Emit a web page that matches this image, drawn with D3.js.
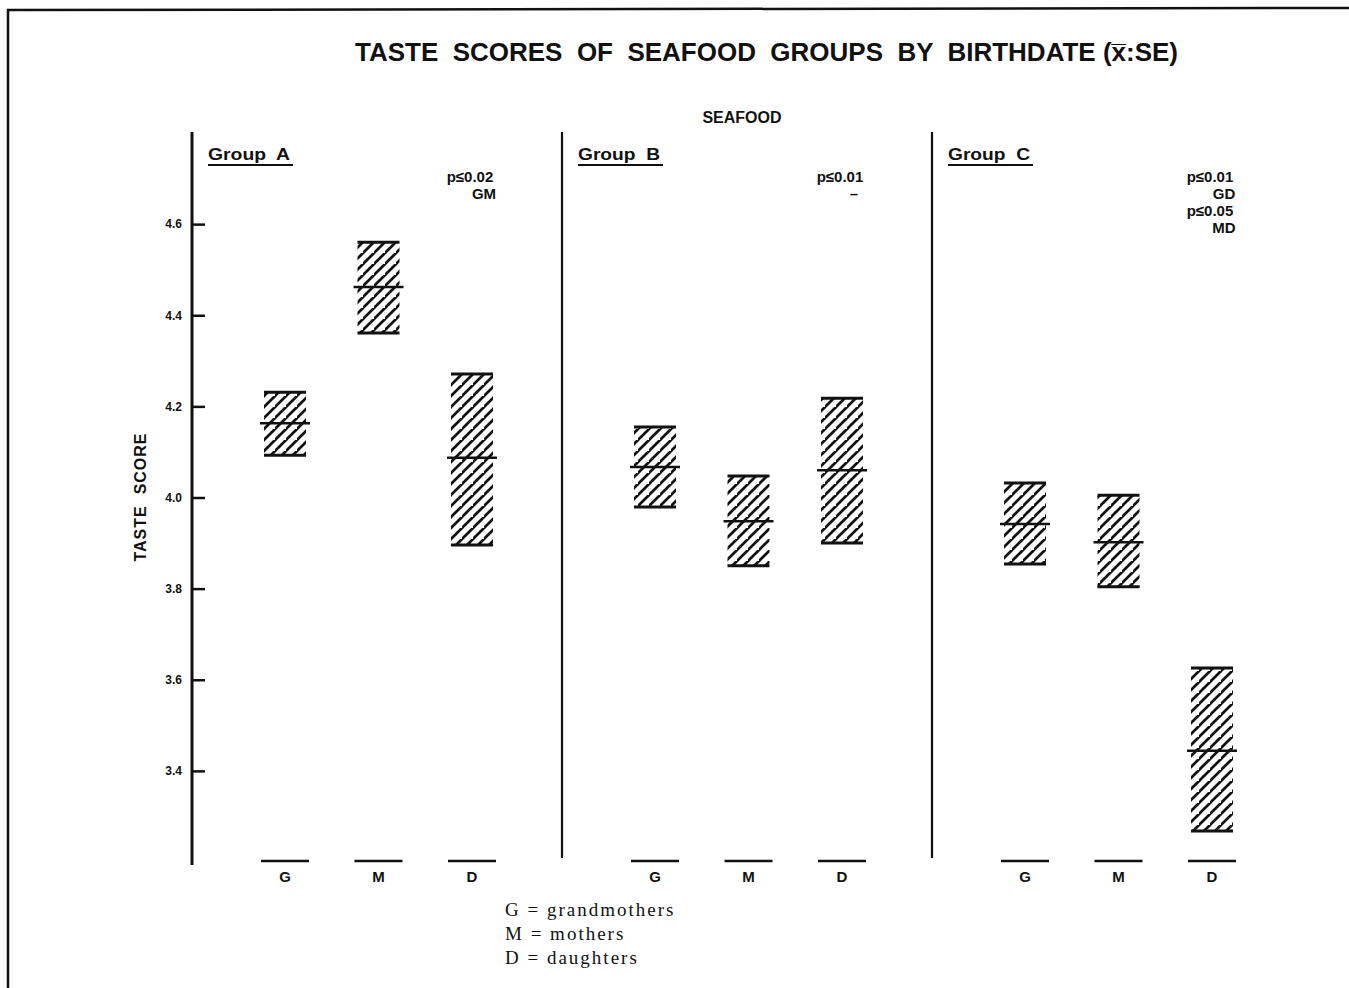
<!DOCTYPE html>
<html><head><meta charset="utf-8">
<script src="https://cdn.jsdelivr.net/npm/d3@7"></script>
<style>
html,body{margin:0;padding:0;background:#fff;}
svg{display:block;}
text{font-family:"Liberation Sans","DejaVu Sans",sans-serif;fill:#111;white-space:pre;}
</style></head>
<body>
<svg id="c" width="1349" height="988"></svg>
<script>
const groups = ["Group  A", "Group  B", "Group  C"];
const members = ["G", "M", "D"];
// mean, mean+SE, mean-SE per group and member
const meanA = [4.163, 4.462, 4.087];
const upperA = [4.231, 4.560, 4.271];
const lowerA = [4.093, 4.361, 3.896];
const meanB = [4.067, 3.948, 4.060];
const upperB = [4.155, 4.047, 4.218];
const lowerB = [3.979, 3.850, 3.900];
const meanC = [3.942, 3.902, 3.444];
const upperC = [4.032, 4.005, 3.626];
const lowerC = [3.854, 3.804, 3.268];
const yTicks = [3.4, 3.6, 3.8, 4.0, 4.2, 4.4, 4.6];
const yDomain = [3.2, 4.8];
const annotations = [
  ["p\u22640.02", "GM"],
  ["p\u22640.01", "\u2013"],
  ["p\u22640.01", "GD", "p\u22640.05", "MD"]
];
const legendLines = ["G = grandmothers", "M = mothers", "D = daughters"];
const title = "TASTE  SCORES  OF  SEAFOOD  GROUPS  BY  BIRTHDATE (x\u0305:SE)";

const means = [meanA, meanB, meanC];
const uppers = [upperA, upperB, upperC];
const lowers = [lowerA, lowerB, lowerC];

const svg = d3.select("#c");
const y = d3.scaleLinear().domain(yDomain).range([862, 133]);
const panel = d3.scaleBand().domain(groups).range([192, 1302]).paddingInner(0).paddingOuter(0);
const xin = d3.scalePoint().domain(members).range([93, 280]);

// frame
svg.append("path").attr("d", "M8,988 L8,10 L1349,8").attr("fill","none").attr("stroke","#111").attr("stroke-width",2.5);

// hatch pattern
const defs = svg.append("defs");
const P = 11;
const pat = defs.append("pattern").attr("id","hatch").attr("patternUnits","userSpaceOnUse")
  .attr("width",P).attr("height",P);
pat.append("path").attr("d",`M-2,${P+2} L${P+2},-2 M${-P-2},${P+2} L2,-2 M${P-2},${2*P+2} L${2*P+2},${P-2}`)
  .attr("stroke","#111").attr("stroke-width",2.7);

// title
svg.append("text").attr("x",355).attr("y",61).attr("font-size",25).attr("font-weight","bold")
  .attr("textLength",823).attr("lengthAdjust","spacingAndGlyphs").text(title);
svg.append("text").attr("x",742).attr("y",123).attr("text-anchor","middle").attr("font-size",16)
  .attr("font-weight","bold").text("SEAFOOD");

// y axis
const yAxis = d3.axisRight(y).tickValues(yTicks).tickSize(13).tickFormat(d3.format(".1f"));
const ga = svg.append("g").attr("transform","translate(192,0)").call(yAxis);
ga.select(".domain").remove();
ga.selectAll(".tick line").attr("stroke","#111").attr("stroke-width",2.5);
ga.selectAll(".tick text").attr("x",-10).attr("text-anchor","end").attr("font-size",12)
  .attr("font-weight","bold").attr("fill","#111");
svg.append("line").attr("x1",192).attr("x2",192).attr("y1",y(4.8)-1).attr("y2",y(3.2)+3)
  .attr("stroke","#111").attr("stroke-width",3);
svg.append("text").attr("transform","translate(146,497) rotate(-90)").attr("text-anchor","middle")
  .attr("font-size",16).attr("font-weight","bold").attr("letter-spacing",1).text("TASTE  SCORE");

groups.forEach((g, gi) => {
  const x0 = panel(g);
  if (gi > 0) {
    svg.append("line").attr("x1",x0).attr("x2",x0).attr("y1",y(4.8)-1).attr("y2",y(3.2)-4)
      .attr("stroke","#111").attr("stroke-width",2.2);
  }
  const lx = x0 + 16;
  svg.append("text").attr("x",lx).attr("y",160).attr("font-size",17).attr("font-weight","bold")
    .attr("textLength",82).attr("lengthAdjust","spacingAndGlyphs").text(g);
  svg.append("line").attr("x1",lx).attr("x2",lx+85).attr("y1",165).attr("y2",165).attr("stroke","#111").attr("stroke-width",2.2);

  // annotation
  const ann = annotations[gi];
  const ax = x0 + xin("D") - 2;
  ann.forEach((s, si) => {
    const isP = s.startsWith("p");
    svg.append("text").attr("x", isP ? ax : ax + 14).attr("y", 182 + si*17)
      .attr("text-anchor","middle").attr("font-size",15).attr("font-weight","bold").text(s);
  });

  members.forEach((m, mi) => {
    const cx = x0 + xin(m);
    const bw = 42;
    const yt = y(uppers[gi][mi]), yb = y(lowers[gi][mi]), ym = y(means[gi][mi]);
    svg.append("rect").attr("x",cx-bw/2).attr("y",yt).attr("width",bw).attr("height",yb-yt)
      .attr("fill","url(#hatch)");
    [yt, yb].forEach(yy => svg.append("line").attr("x1",cx-bw/2).attr("x2",cx+bw/2)
      .attr("y1",yy).attr("y2",yy).attr("stroke","#111").attr("stroke-width",3));
    svg.append("line").attr("x1",cx-bw/2-4).attr("x2",cx+bw/2+4).attr("y1",ym).attr("y2",ym)
      .attr("stroke","#111").attr("stroke-width",2.5);
    svg.append("line").attr("x1",cx-24).attr("x2",cx+24).attr("y1",y(3.2)-1).attr("y2",y(3.2)-1)
      .attr("stroke","#111").attr("stroke-width",2.6);
    svg.append("text").attr("x",cx).attr("y",y(3.2)+20).attr("text-anchor","middle")
      .attr("font-size",15).attr("font-weight","bold").text(m);
  });
});

// legend
legendLines.forEach((s, i) => {
  svg.append("text").attr("x",505).attr("y",916 + i*24).attr("font-size",19).attr("letter-spacing",2)
    .style("font-family","'Liberation Serif','DejaVu Serif',serif").text(s);
});
</script>
</body></html>
